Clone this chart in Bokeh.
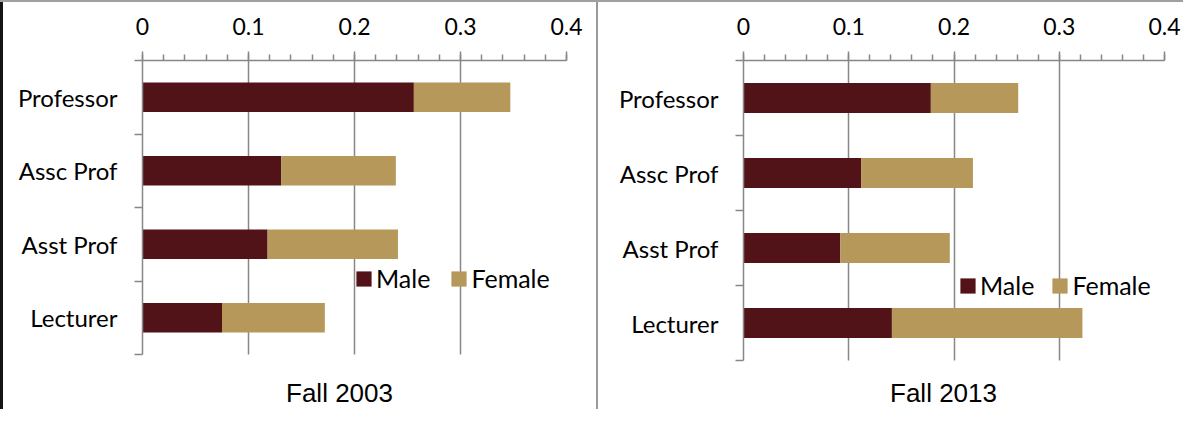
from bokeh.plotting import figure
from bokeh.models import Range1d, FixedTicker, Label, ColumnDataSource, Spacer
from bokeh.layouts import row, column
from bokeh.embed import file_html
from bokeh.resources import INLINE

# ---- data ----
categories = ["Professor", "Assc Prof", "Asst Prof", "Lecturer"]   # top to bottom
series = ["Male", "Female"]
male_2003 = [0.256, 0.131, 0.118, 0.075]
female_2003 = [0.091, 0.108, 0.123, 0.097]
male_2013 = [0.178, 0.112, 0.092, 0.141]
female_2013 = [0.083, 0.106, 0.104, 0.181]
x_ticks = [0, 0.1, 0.2, 0.3, 0.4]
x_tick_labels = ["0", "0.1", "0.2", "0.3", "0.4"]
titles = ["Fall 2003", "Fall 2013"]

colors = ["#521318", "#B5985A"]
GRAY = "#878787"
FONT = "Lato"

n = len(categories)
ypos = [n - 1 - i + 0.5 for i in range(n)]
bounds = list(range(n + 1))
minor_x = [round(0.02 * k, 2) for k in range(21)]


def panel(male, female, title, width, height, mb_left, mb_right, mb_top, plot_h,
          leg_loc, leg_spacing, title_xy):
    # the frame runs down to the canvas bottom; the area below the bars
    # (title space) is an extension of the y range below 0
    frame_h = height - mb_top
    extra = (frame_h - plot_h) * n / plot_h
    src = ColumnDataSource(dict(y=ypos, Male=male, Female=female, cat=categories))
    p = figure(width=width, height=height, x_range=Range1d(0, 0.4),
               y_range=Range1d(-extra, n),
               x_axis_location="above", toolbar_location=None, output_backend="svg",
               min_border_left=mb_left, min_border_right=mb_right,
               min_border_top=mb_top, min_border_bottom=0)
    p.outline_line_color = None
    p.background_fill_color = "white"
    p.border_fill_color = "white"

    g = p.xgrid[0]
    g.ticker = FixedTicker(ticks=x_ticks[1:])
    g.grid_line_color = GRAY
    g.grid_line_width = 1.5
    if "cross_bounds" in g.properties():
        g.cross_bounds = (0, n)
    else:
        g.grid_line_color = None
        p.segment(x0=x_ticks[1:], y0=0, x1=x_ticks[1:], y1=n,
                  line_color=GRAY, line_width=1.5)
    p.ygrid.grid_line_color = None

    p.hbar_stack(series, y="y", height=0.4, color=colors, source=src,
                 legend_label=series, line_width=0)

    xa = p.xaxis[0]
    xa.ticker = FixedTicker(ticks=x_ticks, minor_ticks=minor_x)
    xa.major_label_overrides = {t: l for t, l in zip(x_ticks, x_tick_labels)}
    xa.axis_line_color = GRAY
    xa.axis_line_width = 1.5
    xa.major_tick_line_color = GRAY
    xa.major_tick_line_width = 1.5
    xa.minor_tick_line_color = GRAY
    xa.minor_tick_line_width = 1.5
    xa.major_tick_out = 9
    xa.major_tick_in = 0
    xa.minor_tick_out = 6
    xa.minor_tick_in = 0
    xa.major_label_text_font = FONT
    xa.major_label_text_font_size = "23px"
    xa.major_label_text_color = "black"
    xa.major_label_standoff = 17

    ya = p.yaxis[0]
    ya.bounds = (0, n)
    ya.ticker = FixedTicker(ticks=ypos, minor_ticks=bounds)
    ya.major_label_overrides = {y: c for y, c in zip(ypos, categories)}
    ya.axis_line_color = GRAY
    ya.axis_line_width = 1.5
    ya.major_tick_out = 0
    ya.major_tick_in = 0
    ya.minor_tick_line_color = GRAY
    ya.minor_tick_line_width = 1.5
    ya.minor_tick_out = 8
    ya.minor_tick_in = 0
    ya.major_label_text_font = FONT
    ya.major_label_text_font_size = "24px"
    ya.major_label_text_color = "black"
    ya.major_label_standoff = 17

    lg = p.legend[0]
    lg.orientation = "horizontal"
    lg.location = leg_loc
    lg.padding = 0
    lg.margin = 0
    lg.spacing = leg_spacing
    lg.label_standoff = 3
    lg.glyph_width = 19
    lg.glyph_height = 19
    lg.label_height = 19
    lg.label_text_font = FONT
    lg.label_text_font_size = "25px"
    lg.label_text_color = "black"
    lg.border_line_alpha = 0
    lg.background_fill_alpha = 0

    p.add_layout(Label(x=title_xy[0], y=title_xy[1], x_units="screen", y_units="screen",
                       text=title, text_font="Liberation Sans", text_font_size="26px",
                       text_align="center", text_baseline="middle", text_color="black"))
    return p


H = 407
p1 = panel(male_2003, female_2003, titles[0], 593, H, 139, 30, 58, 294,
           (212, 116), 19, (197, 17))
p2 = panel(male_2013, female_2013, titles[1], 585, H, 145, 19, 58, 300,
           (215, 109), 16, (200, 17))

top = Spacer(width=1183, height=2, styles={"background-color": "#a0a0a0"})
lb = Spacer(width=3, height=H, styles={"background-color": "#151515"})
sep = Spacer(width=2, height=H, styles={"background-color": "#9a9a9a"})
layout = column(top, row(lb, p1, sep, p2))

open("out.html", "w").write(file_html(layout, INLINE))
